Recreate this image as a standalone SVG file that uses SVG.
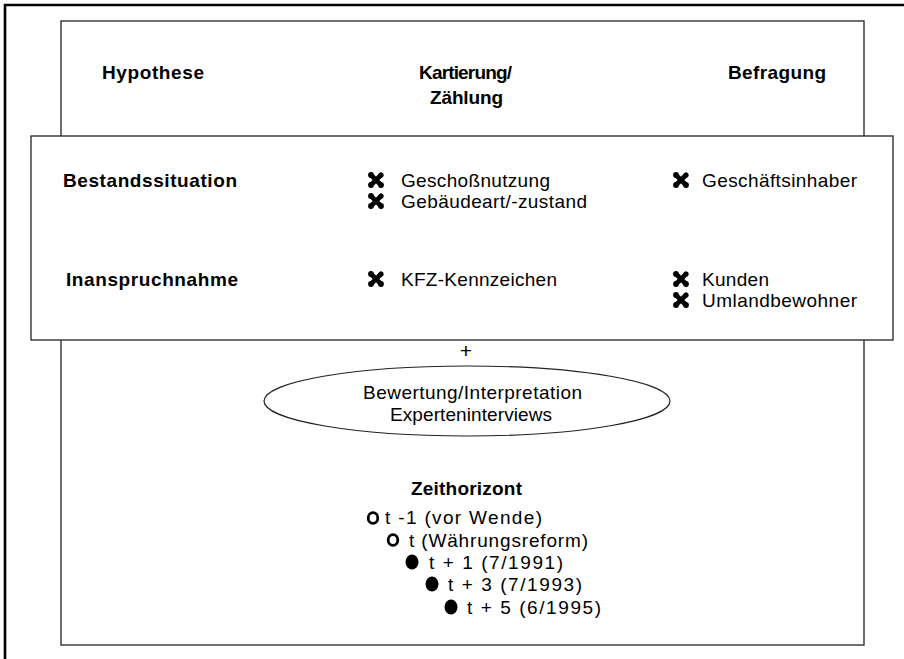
<svg xmlns="http://www.w3.org/2000/svg" width="904" height="659" viewBox="0 0 904 659">
<style>
.b{font-family:"Liberation Sans",Arial,sans-serif;font-weight:bold;font-size:19px;fill:#000}
.r{font-family:"Liberation Sans",Arial,sans-serif;font-size:19px;fill:#000}
.box{fill:#fff;stroke:#222;stroke-width:1.3}
.ring{fill:none;stroke:#000;stroke-width:2.8}
</style>
<defs>
<g id="cross">
<path d="M-5,-5 L5,5 M5,-5 L-5,5" stroke="#000" stroke-width="4.6" stroke-linecap="round"/>
<circle cx="-5" cy="-5" r="2.9"/>
<circle cx="5" cy="5" r="2.9"/>
<circle cx="5" cy="-5" r="2.6"/>
<circle cx="-5" cy="5" r="2.9"/>
</g>
</defs>
<rect width="904" height="659" fill="#fff"/>
<polyline points="5,659 5,5 904,5" fill="none" stroke="#000" stroke-width="2.6"/>
<g id="outer-box">
<rect class="box" x="61" y="21" width="803" height="624"/>
</g>
<g id="headers">
<text class="b" x="102" y="79" textLength="102">Hypothese</text>
<text class="b" x="419" y="79" textLength="93">Kartierung/</text>
<text class="b" x="430" y="104" textLength="73">Zählung</text>
<text class="b" x="728" y="79" textLength="98">Befragung</text>
</g>
<g id="matrix">
<rect class="box" x="31" y="136" width="862" height="204"/>
<text class="b" x="63" y="187" textLength="174">Bestandssituation</text>
<text class="b" x="66" y="286" textLength="172">Inanspruchnahme</text>
<use href="#cross" x="376" y="180"/>
<text class="r" x="401" y="187" textLength="149">Geschoßnutzung</text>
<use href="#cross" x="376" y="201"/>
<text class="r" x="401" y="208" textLength="186">Gebäudeart/-zustand</text>
<use href="#cross" x="376" y="279"/>
<text class="r" x="401" y="286" textLength="156">KFZ-Kennzeichen</text>
<use href="#cross" x="681" y="180"/>
<text class="r" x="702" y="187" textLength="155">Geschäftsinhaber</text>
<use href="#cross" x="681" y="279"/>
<text class="r" x="702" y="286" textLength="67">Kunden</text>
<use href="#cross" x="681" y="300"/>
<text class="r" x="702" y="307" textLength="155">Umlandbewohner</text>
</g>
<g id="connectors">
<text class="r" x="466" y="358" text-anchor="middle" style="font-size:21px">+</text>
</g>
<g id="bewertung">
<ellipse cx="467" cy="401" rx="203" ry="35" fill="#fff" stroke="#222" stroke-width="1.2"/>
<text class="r" x="363" y="399" textLength="219">Bewertung/Interpretation</text>
<text class="r" x="390" y="421" textLength="162">Experteninterviews</text>
</g>
<g id="zeithorizont">
<text class="b" x="411" y="495" textLength="111">Zeithorizont</text>
<ellipse class="ring" cx="373" cy="518" rx="4.8" ry="5.4"/>
<text class="r" x="385" y="524" textLength="157">t -1 (vor Wende)</text>
<ellipse class="ring" cx="393" cy="540" rx="4.8" ry="5.4"/>
<text class="r" x="409" y="547" textLength="179">t (Währungsreform)</text>
<ellipse cx="412" cy="562" rx="6.5" ry="7.5" fill="#000"/>
<text class="r" x="429" y="569" textLength="134">t + 1 (7/1991)</text>
<ellipse cx="432" cy="584" rx="6.5" ry="7.5" fill="#000"/>
<text class="r" x="448" y="591" textLength="134">t + 3 (7/1993)</text>
<ellipse cx="451" cy="607" rx="6.5" ry="7.5" fill="#000"/>
<text class="r" x="467" y="614" textLength="134">t + 5 (6/1995)</text>
</g>
</svg>
